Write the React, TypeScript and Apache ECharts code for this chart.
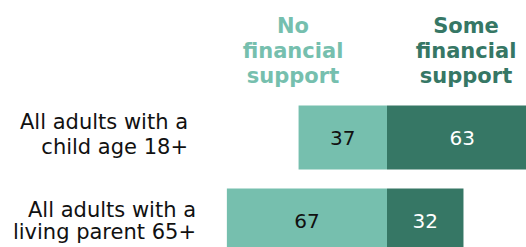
import React, { useEffect, useRef } from "react";
import * as echarts from "echarts";

const categories = ["All adults with a\nchild age 18+", "All adults with a\nliving parent 65+"];
const noSupport = [37, 67];
const someSupport = [63, 32];
const seriesNames = ["No\nfinancial\nsupport", "Some\nfinancial\nsupport"];

const LIGHT = "#76BFAE";
const DARK = "#367765";
const FONT = "DejaVu Sans, Verdana, sans-serif";

export default function App() {
  const ref = useRef<HTMLDivElement>(null);
  useEffect(() => {
    if (!ref.current) return;
    const chart = echarts.init(ref.current, null, { renderer: "svg" });
    chart.setOption({
      animation: false,
      grid: { left: 148, width: 478, top: 96, height: 166, containLabel: false },
      xAxis: {
        type: "value",
        min: -100,
        max: 100,
        show: false,
      },
      yAxis: {
        type: "category",
        inverse: true,
        data: categories,
        axisLine: { show: false, onZero: false },
        axisTick: { show: false },
        splitLine: { show: false },
        axisLabel: {
          margin: -48,
          align: "right",
          fontFamily: FONT,
          fontSize: 21,
          color: "#111",
          formatter: (v: string, i: number) => (i === 0 ? `{a|${v}}` : `{b|${v}}`),
          rich: {
            a: { fontFamily: FONT, fontSize: 21, lineHeight: 25, color: "#111", padding: [0, 8, 6, 0] },
            b: { fontFamily: FONT, fontSize: 21, lineHeight: 22, color: "#111", padding: [0, 0, 0, 0] },
          },
        },
      },
      graphic: [
        {
          type: "text",
          x: 293,
          y: 51,
          style: {
            text: seriesNames[0],
            fill: LIGHT,
            font: `bold 21px ${FONT}`,
            lineHeight: 25,
            align: "center",
            verticalAlign: "middle",
          },
        },
        {
          type: "text",
          x: 466,
          y: 51,
          style: {
            text: seriesNames[1],
            fill: DARK,
            font: `bold 21px ${FONT}`,
            lineHeight: 25,
            align: "center",
            verticalAlign: "middle",
          },
        },
      ],
      series: [
        {
          name: "No financial support",
          type: "bar",
          stack: "s",
          barWidth: 64,
          data: noSupport.map((v) => -v),
          itemStyle: { color: LIGHT },
          label: {
            show: true,
            position: "inside",
            formatter: (p: any) => String(Math.abs(p.value)),
            color: "#111",
            fontFamily: FONT,
            fontSize: 20,
          },
        },
        {
          name: "Some financial support",
          type: "bar",
          stack: "s",
          barWidth: 64,
          data: someSupport,
          itemStyle: { color: DARK },
          label: {
            show: true,
            position: "inside",
            color: "#fff",
            fontFamily: FONT,
            fontSize: 20,
          },
        },
      ],
    });
    return () => chart.dispose();
  }, []);
  return (
    <div
      ref={ref}
      style={{ position: "fixed", left: 0, top: 0, width: 640, height: 280, background: "#fff" }}
    />
  );
}
